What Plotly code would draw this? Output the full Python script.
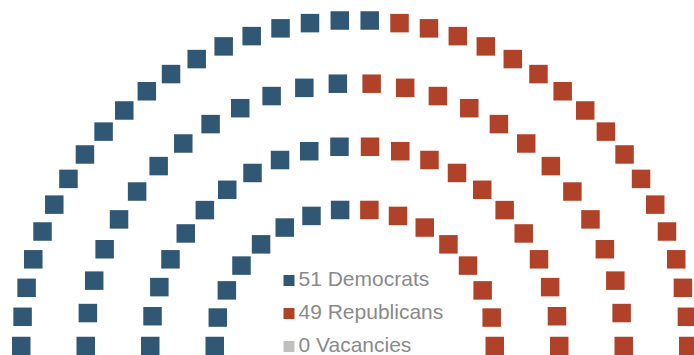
import math
import plotly.graph_objects as go

# Party composition of the chamber
parties = ["Democrats", "Republicans", "Vacancies"]
seat_counts = [51, 49, 0]
party_colors = ["#305773", "#B04229", "#C0C0C0"]

# Seats per semicircular row, innermost first
row_seats = [16, 22, 26, 36]

# Geometry (plot units)
OUTER_R = 333.5
INNER_R = 140.0
Y_SQUASH = 0.977  # the hemicycle is drawn slightly flatter than round

n_rows = len(row_seats)
row_radii = [INNER_R + (OUTER_R - INNER_R) * k / (n_rows - 1) for k in range(n_rows)]

# Build every seat with its angular position (0 = far left, 1 = far right)
seats = []
for r, n in zip(row_radii, row_seats):
    for i in range(n):
        frac = i / (n - 1)
        theta = math.pi * (1 - frac)
        seats.append((frac, r, r * math.cos(theta), r * math.sin(theta)))

# Parties fill the hemicycle from left to right by angle
seats.sort(key=lambda s: (s[0], s[1]))

fig = go.Figure()
start = 0
for name, count, color in zip(parties, seat_counts, party_colors):
    block = seats[start:start + count]
    start += count
    fig.add_trace(go.Scatter(
        x=[s[2] for s in block],
        y=[s[3] for s in block],
        mode="markers",
        name=f"{count} {name}",
        marker=dict(symbol="square", size=18.5, color=color, line=dict(width=0)),
        hoverinfo="name",
        showlegend=False,
    ))

# Legend drawn as a small marker + label column in pixel-like units
legend_x = 289
legend_text_x = 298.5
legend_y0 = 280.5
legend_step = 33
legend_rows = [legend_y0 + legend_step * k for k in range(len(parties))]

fig.add_trace(go.Scatter(
    x=[legend_x] * len(parties),
    y=legend_rows,
    mode="markers",
    marker=dict(symbol="square", size=11, color=party_colors, line=dict(width=0)),
    xaxis="x2",
    yaxis="y2",
    hoverinfo="skip",
    showlegend=False,
))
fig.add_trace(go.Scatter(
    x=[legend_text_x] * len(parties),
    y=legend_rows,
    mode="text",
    text=[f"{c} {p}" for c, p in zip(seat_counts, parties)],
    textposition="middle right",
    textfont=dict(family="Liberation Sans, Arial, sans-serif", size=21, color="#8a8a8a"),
    xaxis="x2",
    yaxis="y2",
    hoverinfo="skip",
    showlegend=False,
))

W, H = 694, 355
cx_px, base_px = 354.75, 346.0
fig.update_layout(
    width=W,
    height=H,
    margin=dict(l=0, r=0, t=0, b=0),
    paper_bgcolor="white",
    plot_bgcolor="white",
    showlegend=False,
    xaxis=dict(range=[-cx_px, W - cx_px], visible=False, fixedrange=True),
    yaxis=dict(range=[-(H - base_px) / Y_SQUASH, base_px / Y_SQUASH],
               visible=False, fixedrange=True),
    xaxis2=dict(range=[0, W], visible=False, overlaying="x", fixedrange=True),
    yaxis2=dict(range=[H, 0], visible=False, overlaying="y", fixedrange=True),
)

fig.write_html("out.html")
